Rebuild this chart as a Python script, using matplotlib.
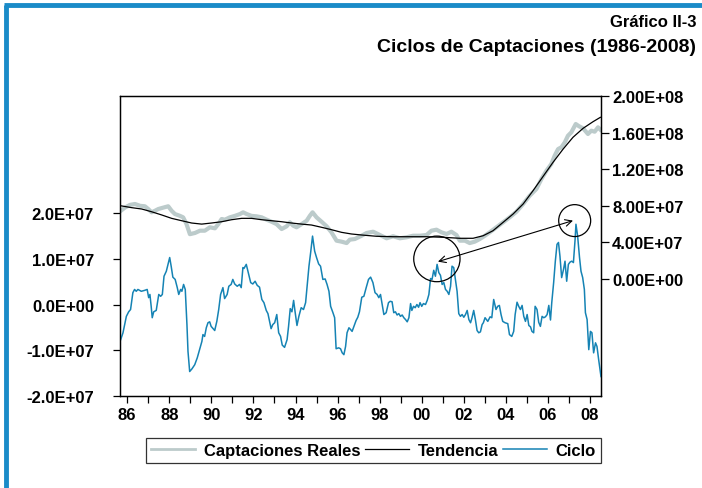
import matplotlib
matplotlib.use("Agg")
import matplotlib.pyplot as plt
from matplotlib.ticker import FixedLocator, FuncFormatter
from matplotlib.patches import Ellipse
from matplotlib.lines import Line2D

plt.rcParams['font.family'] = ['Liberation Sans', 'DejaVu Sans']
plt.rcParams['font.weight'] = 'bold'

# ---------------- data ----------------
# Ciclo (left axis, units of 1e7)
ciclo_t = [1985.69, 1985.80, 1985.96, 1986.07, 1986.16, 1986.27, 1986.35, 1986.43, 1986.51, 1986.67,
           1986.83, 1986.95, 1987.02, 1987.08, 1987.14, 1987.19, 1987.26, 1987.38, 1987.50, 1987.59,
           1987.67, 1987.75, 1987.86, 1987.94, 1988.02, 1988.09, 1988.17, 1988.28, 1988.38, 1988.45,
           1988.54, 1988.60, 1988.68, 1988.76, 1988.84, 1988.89, 1988.97, 1989.08, 1989.21, 1989.33,
           1989.44, 1989.55, 1989.60, 1989.68, 1989.76, 1989.84, 1989.92, 1989.99, 1990.16, 1990.26,
           1990.35, 1990.44, 1990.55, 1990.63, 1990.75, 1990.83, 1990.94, 1991.02, 1991.11, 1991.23,
           1991.34, 1991.42, 1991.50, 1991.55, 1991.66, 1991.74, 1991.87, 1991.97, 1992.08, 1992.18,
           1992.29, 1992.40, 1992.50, 1992.61, 1992.69, 1992.77, 1992.84, 1992.92, 1993.01, 1993.11,
           1993.20, 1993.29, 1993.37, 1993.48, 1993.60, 1993.67, 1993.75, 1993.83, 1993.91, 1993.98,
           1994.07, 1994.16, 1994.27, 1994.38, 1994.48, 1994.55, 1994.64, 1994.72, 1994.81, 1994.91,
           1995.00, 1995.10, 1995.19, 1995.30, 1995.41, 1995.50, 1995.59, 1995.67, 1995.78, 1995.86,
           1995.93, 1996.05, 1996.14, 1996.22, 1996.30, 1996.38, 1996.45, 1996.54, 1996.62, 1996.69,
           1996.81, 1996.88, 1996.96, 1997.04, 1997.15, 1997.25, 1997.36, 1997.47, 1997.57, 1997.68,
           1997.78, 1997.88, 1997.96, 1998.04, 1998.12, 1998.20, 1998.31, 1998.42, 1998.50, 1998.59,
           1998.67, 1998.75, 1998.83, 1998.91, 1998.99, 1999.07, 1999.15, 1999.23, 1999.31, 1999.39,
           1999.47, 1999.53, 1999.61, 1999.69, 1999.77, 1999.85, 1999.92, 2000.00, 2000.08, 2000.18,
           2000.26, 2000.34, 2000.42, 2000.49, 2000.57, 2000.65, 2000.73, 2000.81, 2000.89, 2000.97,
           2001.05, 2001.13, 2001.21, 2001.29, 2001.37, 2001.44, 2001.52, 2001.60, 2001.68, 2001.76,
           2001.84, 2001.92, 2002.00, 2002.08, 2002.16, 2002.24, 2002.32, 2002.39, 2002.47, 2002.55,
           2002.63, 2002.71, 2002.79, 2002.87, 2002.93, 2003.01, 2003.14, 2003.25, 2003.33, 2003.42,
           2003.53, 2003.61, 2003.69, 2003.77, 2003.85, 2003.96, 2004.09, 2004.17, 2004.28, 2004.37,
           2004.44, 2004.53, 2004.61, 2004.69, 2004.77, 2004.85, 2004.93, 2005.01, 2005.09, 2005.17,
           2005.24, 2005.32, 2005.39, 2005.48, 2005.56, 2005.64, 2005.72, 2005.80, 2005.88, 2005.96,
           2006.04, 2006.12, 2006.18, 2006.27, 2006.35, 2006.43, 2006.50, 2006.57, 2006.65, 2006.74,
           2006.81, 2006.89, 2006.97, 2007.05, 2007.13, 2007.21, 2007.29, 2007.33, 2007.41, 2007.50,
           2007.57, 2007.65, 2007.73, 2007.78, 2007.86, 2007.94, 2008.02, 2008.09, 2008.17, 2008.26,
           2008.33, 2008.41, 2008.52]
ciclo_v = [-0.77, -0.62, -0.26, -0.16, -0.11, 0.26, 0.33, 0.29, 0.33, 0.29,
           0.31, 0.33, 0.15, 0.22, -0.04, -0.29, -0.16, -0.13, 0.22, 0.18,
           0.22, 0.62, 0.73, 0.88, 1.03, 0.84, 0.60, 0.55, 0.37, 0.22,
           0.33, 0.29, 0.44, 0.33, -0.44, -1.03, -1.47, -1.41, -1.32, -1.17,
           -0.99, -0.81, -0.66, -0.70, -0.51, -0.40, -0.38, -0.48, -0.57, -0.37,
           -0.11, 0.22, 0.37, 0.13, 0.22, 0.40, 0.44, 0.55, 0.45, 0.40,
           0.44, 0.37, 0.81, 0.79, 0.88, 0.73, 0.48, 0.45, 0.51, 0.42,
           0.38, 0.11, 0.04, -0.13, -0.20, -0.37, -0.53, -0.44, -0.40, -0.22,
           -0.62, -0.70, -0.89, -0.94, -0.77, -0.48, -0.09, -0.16, 0.09, -0.16,
           -0.46, -0.26, -0.07, -0.11, 0.04, 0.40, 0.84, 1.14, 1.50, 1.17,
           1.03, 0.89, 0.84, 0.55, 0.56, 0.44, 0.29, -0.04, -0.18, -0.29,
           -0.97, -0.95, -0.97, -1.06, -1.10, -0.92, -0.62, -0.51, -0.55, -0.59,
           -0.44, -0.35, -0.28, -0.16, 0.16, 0.18, 0.37, 0.55, 0.60, 0.48,
           0.26, 0.22, 0.15, 0.22, 0.00, -0.22, -0.18, 0.04, 0.07, 0.06,
           -0.18, -0.16, -0.23, -0.20, -0.26, -0.23, -0.29, -0.33, -0.38, -0.29,
           0.02, -0.13, -0.04, -0.07, 0.00, -0.06, 0.04, -0.04, 0.02, 0.00,
           0.09, 0.22, 0.57, 0.55, 0.75, 0.62, 0.88, 0.70, 0.64, 0.44,
           0.48, 0.33, 0.29, 0.22, 0.40, 0.84, 0.81, 0.55, 0.29, -0.20,
           -0.26, -0.22, -0.28, -0.22, -0.13, -0.33, -0.40, -0.29, -0.13, -0.33,
           -0.57, -0.62, -0.60, -0.44, -0.40, -0.29, -0.37, -0.27, -0.29, 0.11,
           -0.11, -0.04, -0.02, -0.22, -0.37, -0.40, -0.42, -0.66, -0.70, -0.59,
           -0.22, 0.05, -0.04, -0.11, -0.02, -0.26, -0.37, -0.22, -0.46, -0.49,
           -0.59, -0.62, -0.04, -0.11, -0.39, -0.48, -0.26, -0.29, -0.27, -0.22,
           -0.02, -0.34, 0.04, 0.48, 0.95, 1.32, 1.36, 1.06, 0.59, 0.77,
           0.95, 0.51, 0.88, 0.93, 0.95, 0.92, 1.43, 1.76, 1.50, 1.03,
           0.73, 0.59, 0.33, -0.18, -0.33, -0.99, -0.59, -0.62, -1.06, -0.84,
           -0.92, -1.21, -1.58]

# Tendencia (right axis, units of 1e8)
tend_t = [1985.70, 1986.21, 1986.69, 1987.16, 1987.64, 1988.11, 1988.59, 1989.06, 1989.54, 1990.01,
          1990.49, 1990.96, 1991.44, 1991.91, 1992.39, 1992.86, 1993.34, 1993.81, 1994.29, 1994.76,
          1995.24, 1995.71, 1996.19, 1996.66, 1997.14, 1997.85, 1998.64, 1999.43, 2000.23, 2001.01,
          2001.81, 2002.44, 2002.92, 2003.39, 2003.87, 2004.34, 2004.82, 2005.29, 2005.77, 2006.24,
          2006.72, 2007.19, 2007.67, 2008.14, 2008.49]
tend_v = [0.800, 0.780, 0.765, 0.735, 0.700, 0.663, 0.637, 0.612, 0.600, 0.612,
          0.626, 0.648, 0.663, 0.663, 0.648, 0.637, 0.626, 0.612, 0.600, 0.590,
          0.565, 0.539, 0.510, 0.492, 0.481, 0.467, 0.462, 0.462, 0.462, 0.456,
          0.445, 0.445, 0.473, 0.528, 0.620, 0.710, 0.820, 0.965, 1.122, 1.275,
          1.420, 1.549, 1.647, 1.719, 1.767]

# Captaciones Reales (right axis, units of 1e8)
capt_t = [1985.70, 1985.89, 1986.13, 1986.37, 1986.61, 1986.84, 1987.00, 1987.16, 1987.32, 1987.48,
          1987.71, 1987.95, 1988.11, 1988.27, 1988.51, 1988.66, 1988.82, 1988.98, 1989.22, 1989.46,
          1989.69, 1989.93, 1990.17, 1990.33, 1990.49, 1990.64, 1990.88, 1991.12, 1991.36, 1991.51,
          1991.68, 1991.91, 1992.15, 1992.39, 1992.63, 1992.86, 1993.10, 1993.34, 1993.58, 1993.73,
          1993.89, 1994.05, 1994.29, 1994.53, 1994.68, 1994.81, 1995.00, 1995.24, 1995.48, 1995.71,
          1995.95, 1996.19, 1996.43, 1996.58, 1996.82, 1997.14, 1997.38, 1997.69, 1998.01, 1998.33,
          1998.64, 1998.96, 1999.28, 1999.59, 1999.91, 2000.23, 2000.46, 2000.70, 2000.94, 2001.18,
          2001.41, 2001.65, 2001.81, 2002.05, 2002.28, 2002.52, 2002.76, 2003.00, 2003.23, 2003.55,
          2003.87, 2004.18, 2004.50, 2004.82, 2005.13, 2005.45, 2005.69, 2005.93, 2006.16, 2006.32,
          2006.48, 2006.64, 2006.80, 2006.95, 2007.11, 2007.32, 2007.48, 2007.67, 2007.90, 2008.06,
          2008.22, 2008.38, 2008.49]
capt_v = [0.746, 0.780, 0.810, 0.820, 0.800, 0.795, 0.765, 0.729, 0.746, 0.765,
          0.780, 0.795, 0.746, 0.710, 0.690, 0.674, 0.600, 0.490, 0.503, 0.528,
          0.528, 0.565, 0.554, 0.600, 0.656, 0.648, 0.674, 0.690, 0.710, 0.729,
          0.710, 0.690, 0.685, 0.674, 0.648, 0.626, 0.600, 0.546, 0.576, 0.620,
          0.583, 0.565, 0.600, 0.637, 0.690, 0.729, 0.674, 0.626, 0.576, 0.510,
          0.419, 0.408, 0.393, 0.430, 0.437, 0.473, 0.503, 0.517, 0.481, 0.445,
          0.467, 0.445, 0.456, 0.473, 0.473, 0.481, 0.528, 0.539, 0.510, 0.492,
          0.517, 0.481, 0.419, 0.419, 0.393, 0.408, 0.437, 0.473, 0.510, 0.565,
          0.620, 0.674, 0.735, 0.820, 0.910, 0.984, 1.093, 1.184, 1.257, 1.348,
          1.420, 1.440, 1.494, 1.566, 1.603, 1.694, 1.669, 1.647, 1.585, 1.621,
          1.610, 1.658, 1.632]

left_ticks = [-2e7, -1e7, 0, 1e7, 2e7]
right_ticks = [0, 4e7, 8e7, 1.2e8, 1.6e8, 2e8]
year_labels = ['86', '88', '90', '92', '94', '96', '98', '00', '02', '04', '06', '08']
label_years = [1986, 1988, 1990, 1992, 1994, 1996, 1998, 2000, 2002, 2004, 2006, 2008]
minor_years = [1987, 1989, 1991, 1993, 1995, 1997, 1999, 2001, 2003, 2005, 2007]

# annotation geometry (data units: year, left-axis value)
circ1 = (2000.72, 1.0e7, 2.2, 1.0e7)
circ2 = (2007.27, 1.84e7, 1.52, 0.70e7)
arrow_a = (2000.77, 0.94e7)
arrow_b = (2007.19, 1.84e7)

# ---------------- figure ----------------
C_CAPT = '#bccbcb'
C_TEND = '#000000'
C_CICLO = '#1583b4'
C_FRAME = '#1a8bc8'

fig = plt.figure(figsize=(7.02, 4.89), dpi=100)
ax = fig.add_axes([0.1716, 0.1881, 0.6845, 0.6135])
ax2 = ax.twinx()
ax.set_zorder(2)
ax.patch.set_visible(False)

l_ciclo, = ax.plot(ciclo_t, [v * 1e7 for v in ciclo_v], color=C_CICLO, lw=1.1)
ax2.plot(capt_t, [v * 1e8 for v in capt_v], color=C_CAPT, lw=3.0, solid_joinstyle='round')
l_tend, = ax2.plot(tend_t, [v * 1e8 for v in tend_v], color=C_TEND, lw=0.9)
h_capt = Line2D([], [], color=C_CAPT, lw=2.0)

ax.set_xlim(1985.68, 2008.52)
ax.set_ylim(-2.007e7, 4.572e7)
ax2.set_ylim(-1.279e8, 2.0e8)

ax.xaxis.set_major_locator(FixedLocator(label_years))
ax.xaxis.set_minor_locator(FixedLocator(minor_years))
ax.set_xticklabels(year_labels)
ax.yaxis.set_major_locator(FixedLocator(left_ticks))
ax.yaxis.set_major_formatter(FuncFormatter(lambda v, p: '{:.1E}'.format(v)))
ax2.yaxis.set_major_locator(FixedLocator(right_ticks))
ax2.yaxis.set_major_formatter(FuncFormatter(lambda v, p: '{:.2E}'.format(v)))

for a in (ax, ax2):
    for s in a.spines.values():
        s.set_linewidth(0.9)
        s.set_color('black')
ax.tick_params(axis='x', which='both', direction='out', length=5, width=0.9, labelsize=12, pad=3)
ax.tick_params(axis='y', direction='out', length=5, width=0.9, labelsize=12, pad=14)
ax2.tick_params(axis='y', direction='out', length=6, width=0.9, labelsize=12, pad=2)
for lab in ax.get_xticklabels() + ax.get_yticklabels() + ax2.get_yticklabels():
    lab.set_fontweight('bold')

# annotations
for (cx, cy, w, h) in (circ1, circ2):
    ax.add_patch(Ellipse((cx, cy), w, h, fill=False, edgecolor='black', lw=0.9, zorder=5))
ax.annotate('', xy=arrow_a, xytext=arrow_b,
            arrowprops=dict(arrowstyle='<->', color='black', lw=0.8,
                            shrinkA=0, shrinkB=0, mutation_scale=12))

# titles
fig.text(0.992, 0.955, 'Gráfico II-3', ha='right', va='center', fontsize=12, fontweight='bold')
fig.text(0.992, 0.902, 'Ciclos de Captaciones (1986-2008)', ha='right', va='center',
         fontsize=14, fontweight='bold')

# legend
leg = fig.legend([h_capt, l_tend, l_ciclo], ['Captaciones Reales', 'Tendencia', 'Ciclo'],
                 loc='center', bbox_to_anchor=(0.532, 0.077), ncol=3, frameon=True,
                 fancybox=False, edgecolor='black', fontsize=12, handlelength=2.65,
                 handletextpad=0.5, columnspacing=0.3, borderpad=0.3, borderaxespad=0)
leg.get_frame().set_linewidth(0.9)
for t in leg.get_texts():
    t.set_fontweight('bold')

# blue frame (left and top edges)
fig.add_artist(Line2D([0.0085, 0.0085], [0, 0.988], transform=fig.transFigure,
                      color=C_FRAME, lw=3.5, solid_capstyle='butt'))
fig.add_artist(Line2D([0.006, 1.0], [0.988, 0.988], transform=fig.transFigure,
                      color=C_FRAME, lw=3.5, solid_capstyle='butt'))

fig.savefig('out.png', dpi=100)
